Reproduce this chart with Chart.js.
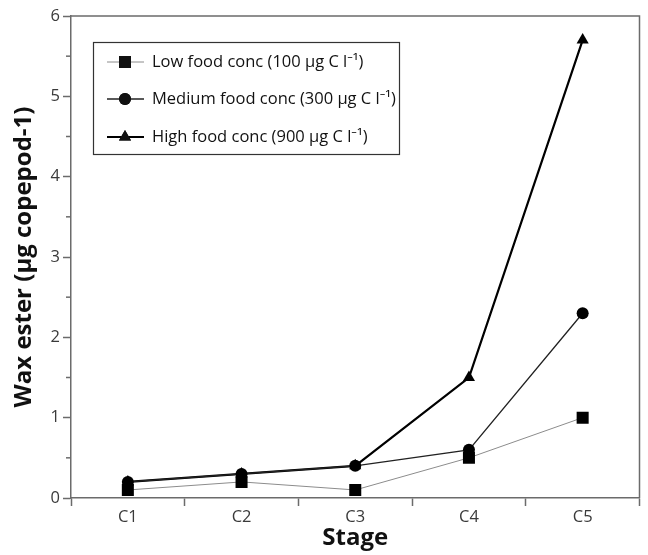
<!DOCTYPE html>
<html>
<head>
<meta charset="utf-8">
<script src="https://cdn.jsdelivr.net/npm/chart.js@4"></script>
<style>
  html, body { margin: 0; padding: 0; background: #fff; }
  #wrap { width: 648px; height: 555px; }
</style>
</head>
<body>
<div id="wrap"><canvas id="chart" width="648" height="555"></canvas></div>
<script>
// Stages and wax ester per copepod (µg)
const stages = ['C1', 'C2', 'C3', 'C4', 'C5'];
const lowFood = [0.1, 0.2, 0.1, 0.5, 1.0];
const mediumFood = [0.2, 0.3, 0.4, 0.6, 2.3];
const highFood = [0.2, 0.3, 0.4, 1.5, 5.7];

const seriesLabels = [
  'Low food conc (100 µg C l⁻¹)',
  'Medium food conc (300 µg C l⁻¹)',
  'High food conc (900 µg C l⁻¹)'
];

const axisColor = '#6b6b6b';
const fontFamily = '"Open Sans", "Noto Sans", sans-serif';

// minor ticks on y (half units), frame on top/right, and the boxed legend
const decorations = {
  id: 'decorations',
  afterDraw(chart) {
    const ctx = chart.ctx;
    const area = chart.chartArea;
    const y = chart.scales.y;
    ctx.save();
    ctx.strokeStyle = axisColor;
    ctx.lineWidth = 1.5;
    ctx.beginPath();
    ctx.moveTo(area.left, area.top);
    ctx.lineTo(area.right, area.top);
    ctx.lineTo(area.right, area.bottom);
    ctx.stroke();
    for (let v = 0.5; v < 6; v += 1) {
      const py = y.getPixelForValue(v);
      ctx.beginPath();
      ctx.moveTo(area.left - 5, py);
      ctx.lineTo(area.left, py);
      ctx.stroke();
    }

    // legend box
    const bx = 93, by = 42, bw = 306, bh = 112;
    ctx.strokeStyle = '#333';
    ctx.lineWidth = 1.2;
    ctx.strokeRect(bx + 0.5, by + 0.5, bw, bh);
    const rowY = [62, 99, 137];
    chart.data.datasets.forEach((ds, i) => {
      const cy = rowY[i];
      ctx.strokeStyle = ds.borderColor;
      ctx.lineWidth = ds.borderWidth;
      ctx.beginPath();
      ctx.moveTo(107, cy);
      ctx.lineTo(144, cy);
      ctx.stroke();
      Chart.helpers.drawPoint(ctx, {
        pointStyle: ds.pointStyle,
        radius: ds.pointRadius,
        borderWidth: 0
      }, 125, cy);
      ctx.fillStyle = '#111';
      ctx.fill();
      ctx.font = '16.5px ' + fontFamily;
      ctx.textBaseline = 'middle';
      ctx.textAlign = 'left';
      ctx.fillText(ds.label, 152, cy);
    });
    ctx.restore();
  }
};

new Chart(document.getElementById('chart'), {
  type: 'line',
  data: {
    labels: stages,
    datasets: [
      {
        label: seriesLabels[0],
        data: lowFood,
        borderColor: '#8c8c8c',
        borderWidth: 1,
        pointStyle: 'rect',
        pointRadius: 8.5,
        pointBackgroundColor: '#000',
        pointBorderColor: '#000',
        pointBorderWidth: 0
      },
      {
        label: seriesLabels[1],
        data: mediumFood,
        borderColor: '#222',
        borderWidth: 1.3,
        pointStyle: 'circle',
        pointRadius: 6,
        pointBackgroundColor: '#000',
        pointBorderColor: '#000',
        pointBorderWidth: 0
      },
      {
        label: seriesLabels[2],
        data: highFood,
        borderColor: '#000',
        borderWidth: 2.2,
        pointStyle: 'triangle',
        pointRadius: 7,
        pointBackgroundColor: '#000',
        pointBorderColor: '#000',
        pointBorderWidth: 0
      }
    ]
  },
  options: {
    responsive: false,
    animation: false,
    layout: { padding: { top: 16, right: 1, left: 0, bottom: 0 } },
    plugins: {
      legend: { display: false },
      tooltip: { enabled: false }
    },
    scales: {
      x: {
        offset: true,
        border: { color: axisColor, width: 1.5 },
        grid: {
          offset: true,
          drawOnChartArea: false,
          tickLength: 8,
          tickColor: axisColor,
          tickWidth: 1.5
        },
        ticks: {
          color: '#3a3a3a',
          padding: 1,
          font: { family: fontFamily, size: 16.5 }
        },
        title: {
          display: true,
          text: 'Stage',
          color: '#111',
          padding: { top: 0, bottom: 2 },
          font: { family: fontFamily, size: 24, weight: 'bold' }
        },
        afterFit(scale) { scale.height = 57; }
      },
      y: {
        min: 0,
        max: 6,
        border: { color: axisColor, width: 1.5 },
        grid: {
          drawOnChartArea: false,
          tickLength: 8,
          tickColor: axisColor,
          tickWidth: 1.5
        },
        ticks: {
          stepSize: 1,
          color: '#3a3a3a',
          padding: 3,
          font: { family: fontFamily, size: 16.5 }
        },
        title: {
          display: true,
          text: 'Wax ester (µg copepod-1)',
          color: '#111',
          padding: { top: 10, bottom: 0 },
          font: { family: fontFamily, size: 24, weight: 'bold' }
        },
        afterFit(scale) { scale.width = 71; }
      }
    }
  },
  plugins: [decorations]
});
</script>
</body>
</html>
